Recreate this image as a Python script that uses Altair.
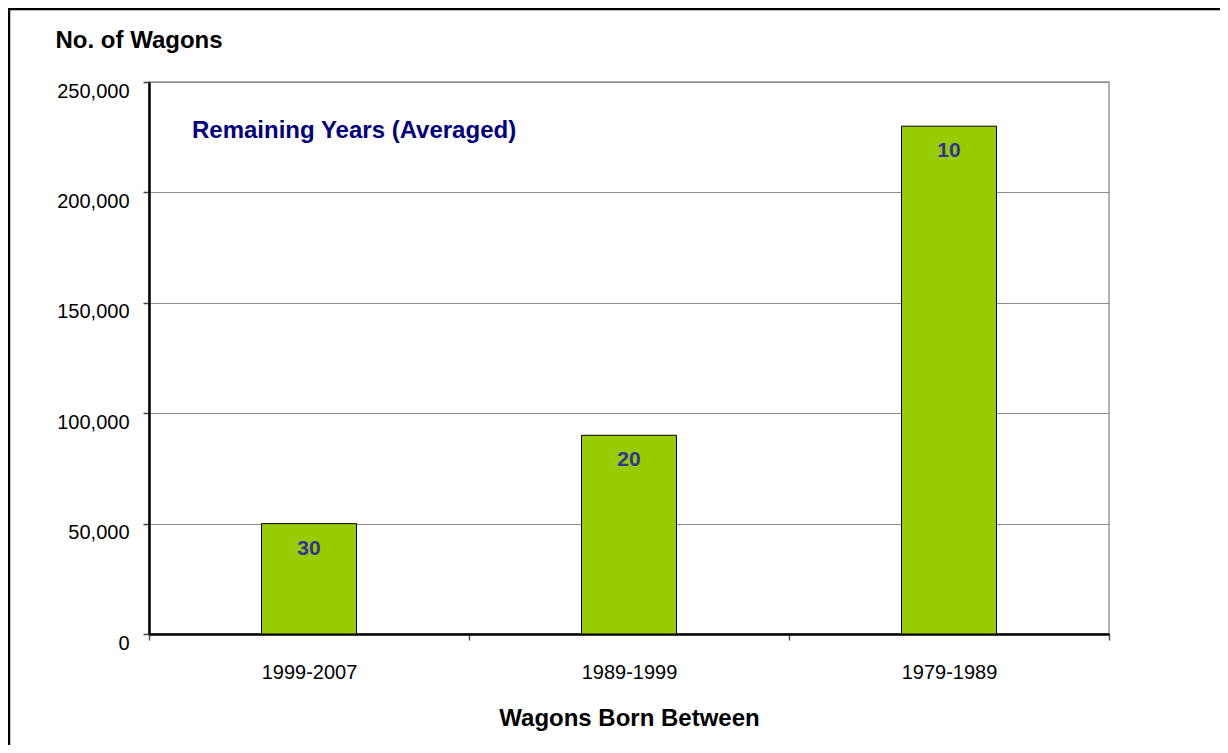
import altair as alt
import pandas as pd

categories = ["1999-2007", "1989-1999", "1979-1989"]
wagons = [50000, 90000, 230000]
remaining_years = [30, 20, 10]
y_ticks = [0, 50000, 100000, 150000, 200000, 250000]
annotation = ["Remaining Years (Averaged)"]

df = pd.DataFrame({"period": categories, "wagons": wagons, "remaining": remaining_years})
ann_df = pd.DataFrame({"t": annotation})

FONT = "Liberation Sans"

x_enc = alt.X(
    "period:N",
    sort=categories,
    scale=alt.Scale(paddingInner=0, paddingOuter=0),
    axis=alt.Axis(
        title="Wagons Born Between",
        labelAngle=0,
        labelFontSize=20,
        labelColor="black",
        labelPadding=22,
        tickBand="extent",
        tickSize=6,
        tickColor="#555555",
        tickWidth=1.5,
        domainColor="black",
        domainWidth=2.5,
        grid=False,
        titleFontSize=24,
        titleFontWeight="bold",
        titleColor="black",
        titleX=480,
        titleY=84,
        titleBaseline="middle",
        titleAlign="center",
    ),
)

y_enc = alt.Y(
    "wagons:Q",
    scale=alt.Scale(domain=[0, 250000], nice=False),
    axis=alt.Axis(
        title="No. of Wagons",
        values=y_ticks,
        format=",.0f",
        labelFontSize=20,
        labelColor="black",
        labelPadding=14,
        labelOffset=9,
        tickSize=6,
        tickColor="#444444",
        tickWidth=1.5,
        domainColor="black",
        domainWidth=2.5,
        gridColor="#8c8c8c",
        gridWidth=1.2,
        titleAngle=0,
        titleAlign="left",
        titleBaseline="middle",
        titleX=-94,
        titleY=-42,
        titleFontSize=24,
        titleFontWeight="bold",
        titleColor="black",
    ),
)

bars = alt.Chart(df).mark_bar(
    size=95, color="#99CC00", stroke="black", strokeWidth=1
).encode(x=x_enc, y=y_enc)

labels = alt.Chart(df).mark_text(
    dy=25, baseline="middle", align="center", fontSize=21, fontWeight="bold", color="#333399"
).encode(x=alt.X("period:N", sort=categories), y=alt.Y("wagons:Q"), text="remaining:Q")

note = alt.Chart(ann_df).mark_text(
    align="left", baseline="middle", fontSize=24, fontWeight="bold", color="#000080"
).encode(x=alt.value(43), y=alt.value(49), text="t:N")

border = alt.Chart(ann_df).mark_rect(
    fill=None, fillOpacity=0, stroke="black", strokeWidth=2.5
).encode(x=alt.value(-140), x2=alt.value(1300), y=alt.value(-73), y2=alt.value(900))

chart = (
    alt.layer(border, bars, labels, note)
    .properties(
        width=960,
        height=552,
        autosize=alt.AutoSizeParams(type="none"),
        padding={"left": 141, "top": 74, "right": 111, "bottom": 111},
    )
    .configure(font=FONT)
    .configure_view(stroke="#999999", strokeWidth=1.5)
)

chart.save("out.html", embed_options={"renderer": "svg", "actions": False})
